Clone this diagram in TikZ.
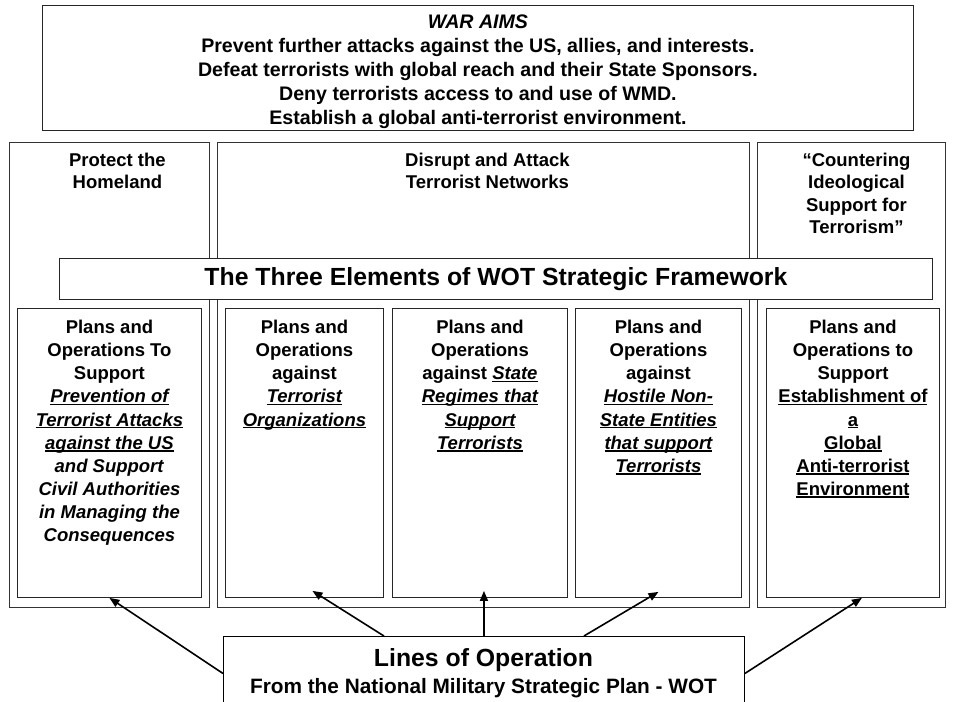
\documentclass[tikz,border=0pt]{standalone}
\usepackage{fontspec}
\setmainfont{Liberation Sans}
\usetikzlibrary{positioning,arrows.meta}

\newcommand\aimfont{\bfseries\fontsize{19.6pt}{23.8pt}\selectfont}
\newcommand\planfont{\bfseries\fontsize{18.5pt}{23.1pt}\selectfont}
\newcommand\bigfont{\bfseries\fontsize{24.8pt}{27pt}\selectfont}
\newcommand\undl[1]{\setbox0\hbox{#1}\rlap{\rule[-2.4pt]{\wd0}{1.3pt}}\box0}

\tikzset{
  colbox/.style={draw=black!80, line width=0.9pt, inner sep=0pt, anchor=north west, minimum height=465pt},
  planbox/.style={draw=black!85, line width=0.9pt, inner sep=0pt, anchor=north west, minimum height=289pt},
  hdr/.style={font=\bfseries\fontsize{18.5pt}{22.5pt}\selectfont, align=center, inner sep=0pt},
  plantxt/.style={font=\planfont, align=center, inner sep=0pt},
  arr/.style={-{Triangle[length=10pt,width=8pt]}, line width=1.6pt}
}

\begin{document}
\begin{tikzpicture}[x=1pt,y=-1pt]
\useasboundingbox (0,0) rectangle (954,702);
\clip (0,0) rectangle (954,702);
% war aims on top
\node[draw=black!85, line width=0.9pt, inner sep=0pt, anchor=north west, minimum width=871pt, minimum height=125pt] (aims) at (42,5) {};
\node[font=\aimfont, align=center, inner sep=0pt, below=10pt of aims.north] (aimstxt) {\textit{WAR AIMS}\\
Prevent further attacks against the US, allies, and interests.\\
Defeat terrorists with global reach and their State Sponsors.\\
Deny terrorists access to and use of WMD.\\
Establish a global anti-terrorist environment.};
% the three columns
\node[colbox, minimum width=200pt] (protect) at (9,142) {};
\node[colbox, minimum width=532pt] (disrupt) at (217,142) {};
\node[colbox, minimum width=188pt] (counter) at (757,142) {};
\node[hdr, below=10.5pt of protect.north, xshift=8pt] (protecttxt) {Protect the\\Homeland};
\node[hdr, below=10.5pt of disrupt.north, xshift=4pt] (disrupttxt) {Disrupt and Attack\\Terrorist Networks};
\node[hdr, below=10.5pt of counter.north, xshift=5pt] (countertxt) {“Countering\\Ideological\\Support for\\Terrorism”};
\node[draw=black!85, fill=white, line width=0.9pt, inner sep=0pt, anchor=north west, minimum width=873pt, minimum height=41pt, font=\bigfont] (frame) at (59,258) {The Three Elements of WOT Strategic Framework};
% plans and operations
\node[planbox, minimum width=184pt] (plan1) at (17,308) {};
\node[planbox, minimum width=158pt] (plan2) at (225,308) {};
\node[planbox, minimum width=175pt] (plan3) at (392,308) {};
\node[planbox, minimum width=166pt] (plan4) at (575,308) {};
\node[planbox, minimum width=173pt] (plan5) at (766,308) {};
\node[plantxt, below=12pt of plan1.north] (plan1txt) {Plans and\\Operations To\\Support\\
\undl{\itshape Prevention of}\\\undl{\itshape Terrorist Attacks}\\\undl{\itshape against the US}\\
\textit{and Support}\\\textit{Civil Authorities}\\\textit{in Managing the}\\\textit{Consequences}};
\node[plantxt, below=12pt of plan2.north] (plan2txt) {Plans and\\Operations\\against\\
\undl{\itshape Terrorist}\\\undl{\itshape Organizations}};
\node[plantxt, below=12pt of plan3.north] (plan3txt) {Plans and\\Operations\\against \undl{\itshape State}\\
\undl{\itshape Regimes that}\\\undl{\itshape Support}\\\undl{\itshape Terrorists}};
\node[plantxt, below=12pt of plan4.north] (plan4txt) {Plans and\\Operations\\against\\
\undl{\itshape Hostile Non-}\\\undl{\itshape State Entities}\\\undl{\itshape that support}\\\undl{\itshape Terrorists}};
\node[plantxt, below=12pt of plan5.north] (plan5txt) {Plans and\\Operations to\\Support\\
\undl{Establishment of}\\\undl{a}\\\undl{Global}\\\undl{Anti-terrorist}\\\undl{Environment}};
% lines of operation
\node[draw=black, fill=white, line width=0.9pt, inner sep=0pt, anchor=north west, minimum width=521pt, minimum height=74pt] (lop) at (223,636) {};
\node[font=\bigfont, inner sep=0pt, anchor=base] (loptxt) at (483.5,666) {Lines of Operation};
\node[font=\bfseries\fontsize{20.8pt}{24pt}\selectfont, inner sep=0pt, anchor=base] (lopsub) at (483.5,693) {From the National Military Strategic Plan - WOT};
\draw[arr] (lop.west) -- (plan1.south);
\draw[arr] ([xshift=-100pt]lop.north) -- ([xshift=8pt,yshift=7pt]plan2.south);
\draw[arr] (lop.north) -- ([yshift=7pt]lop.north |- plan3.south);
\draw[arr] ([xshift=100pt]lop.north) -- ([yshift=6pt]plan4.south);
\draw[arr] (lop.east) -- ([xshift=9pt]plan5.south);
\end{tikzpicture}
\end{document}
